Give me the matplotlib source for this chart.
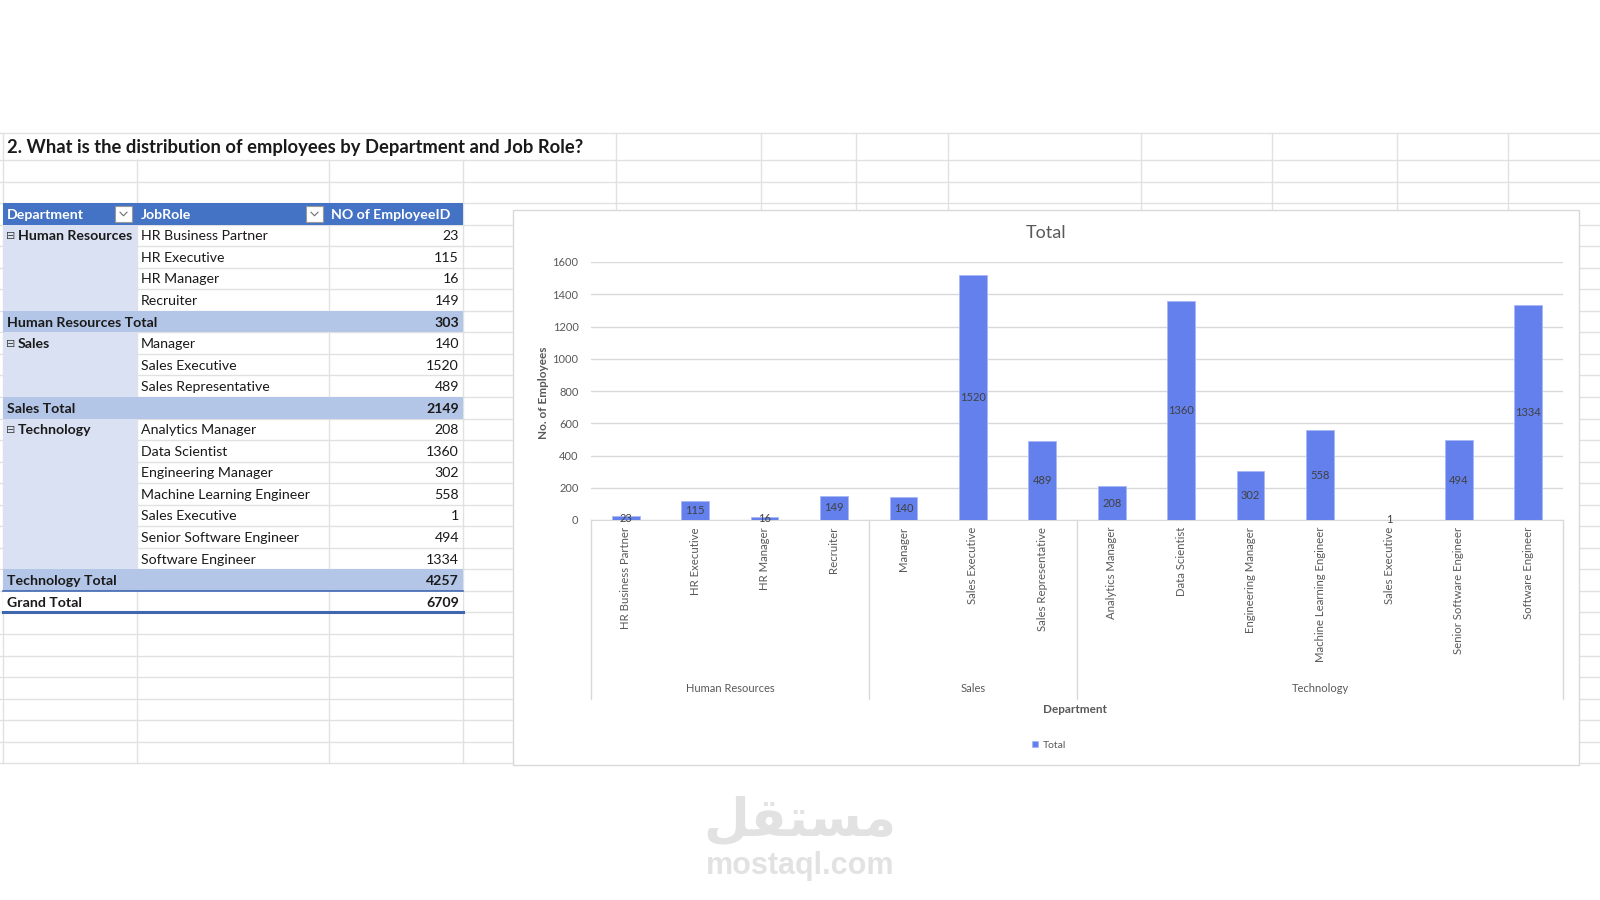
import numpy as np
import matplotlib
matplotlib.use('Agg')
import matplotlib.pyplot as plt
from matplotlib.patches import Rectangle

plt.rcParams['font.family'] = ['Lato', 'DejaVu Sans']

#
# data (pivot table: department -> job role -> number of employees)
#
question = '2. What is the distribution of employees by Department and Job Role?'
header = ['Department', 'JobRole', 'NO of EmployeeID']
departments = ['Human Resources', 'Sales', 'Technology']
hr_roles = ['HR Business Partner', 'HR Executive', 'HR Manager', 'Recruiter']
hr_counts = [23, 115, 16, 149]
sales_roles = ['Manager', 'Sales Executive', 'Sales Representative']
sales_counts = [140, 1520, 489]
tech_roles = ['Analytics Manager', 'Data Scientist', 'Engineering Manager',
              'Machine Learning Engineer', 'Sales Executive',
              'Senior Software Engineer', 'Software Engineer']
tech_counts = [208, 1360, 302, 558, 1, 494, 1334]
y_ticks = [0, 200, 400, 600, 800, 1000, 1200, 1400, 1600]

roles_by_dept = [hr_roles, sales_roles, tech_roles]
counts_by_dept = [hr_counts, sales_counts, tech_counts]

#
# sheet geometry (pixels)
#
RH = 21.55
HEAD_Y = 203
COL_A, COL_B, COL_C, COL_D = 3, 137, 329, 463
FS = 10.2  # table font size
grid_c = '#e1e1e1'
blue_head = '#4472C4'
blue_sub = '#B4C6E7'
blue_light = '#D9E1F2'
txt_c = '#1a1a1a'

fig = plt.figure(figsize=(16, 9), dpi=100)
bg = fig.add_axes([0, 0, 1, 1])
bg.set_xlim(0, 1600)
bg.set_ylim(900, 0)
bg.axis('off')

# sheet gridlines
row_lines = [133, 160, 181.5, HEAD_Y] + [HEAD_Y + RH * (k + 1) for k in range(26)]
for y in row_lines:
    bg.plot([0, 1600], [y, y], color=grid_c, lw=1, zorder=1)
col_lines = [COL_A, COL_B, COL_C, COL_D, 616, 761, 856, 948, 1141, 1272, 1397, 1508]
for x in col_lines:
    y_start = 160 if x in (COL_B, COL_C, COL_D) else 133
    bg.plot([x, x], [y_start, row_lines[-1]], color=grid_c, lw=1, zorder=1)

bg.text(7, 147, question, fontsize=13.2, fontweight='bold', color=txt_c,
        ha='left', va='center', zorder=4)

# header
bg.add_patch(Rectangle((COL_A, HEAD_Y), COL_D - COL_A, RH, fc=blue_head, ec='none', zorder=2))
hy = HEAD_Y + RH / 2 + 1
bg.text(7, hy, header[0], color='white', fontsize=FS, fontweight='bold', va='center', zorder=4)
bg.text(COL_B + 4, hy, header[1], color='white', fontsize=FS, fontweight='bold', va='center', zorder=4)
bg.text(COL_C + 2, hy, header[2], color='white', fontsize=FS, fontweight='bold', va='center', zorder=4)
for bx in (115, 306):
    bg.add_patch(Rectangle((bx, HEAD_Y + 2.5), 17, 16.5, fc='white', ec='#9a9a9a', lw=0.8, zorder=3))
    cx, cy = bx + 8.5, HEAD_Y + 11
    bg.plot([cx - 3.5, cx, cx + 3.5], [cy - 1.8, cy + 1.8, cy - 1.8], color='#707070', lw=0.8, zorder=4)

# body rows
row = 0
for dept, roles, counts in zip(departments, roles_by_dept, counts_by_dept):
    y_top = HEAD_Y + RH * (row + 1)
    bg.add_patch(Rectangle((COL_A, y_top), COL_B - COL_A, RH * len(roles), fc=blue_light, ec='none', zorder=2))
    bg.text(6, y_top + RH / 2 + 0.5, '⊟', fontsize=8, color='#404040', va='center',
            family=['DejaVu Sans'], zorder=4)
    bg.text(18, y_top + RH / 2 + 1, dept, fontsize=FS, fontweight='bold', color=txt_c, va='center', zorder=4)
    for role, n in zip(roles, counts):
        yc = HEAD_Y + RH * (row + 1) + RH / 2 + 1
        bg.text(COL_B + 4, yc, role, fontsize=FS, color=txt_c, va='center', zorder=4)
        bg.text(COL_D - 4, yc, str(n), fontsize=FS, color=txt_c, va='center', ha='right', zorder=4)
        row += 1
    y_sub = HEAD_Y + RH * (row + 1)
    bg.add_patch(Rectangle((COL_A, y_sub), COL_D - COL_A, RH, fc=blue_sub, ec='none', zorder=2))
    bg.text(7, y_sub + RH / 2 + 1, dept + ' Total', fontsize=FS, fontweight='bold', color=txt_c, va='center', zorder=4)
    bg.text(COL_D - 4, y_sub + RH / 2 + 1, str(sum(counts)), fontsize=FS, fontweight='bold',
            color=txt_c, va='center', ha='right', zorder=4)
    row += 1

y_gt = HEAD_Y + RH * (row + 1)
bg.add_patch(Rectangle((COL_A, y_gt), COL_D - COL_A, RH, fc='white', ec='none', zorder=2))
bg.plot([COL_B, COL_B], [y_gt, y_gt + RH], color=grid_c, lw=1, zorder=2.5)
bg.plot([COL_C, COL_C], [y_gt, y_gt + RH], color=grid_c, lw=1, zorder=2.5)
bg.plot([COL_A, COL_D], [y_gt, y_gt], color='#3f67b0', lw=1.2, zorder=3)
bg.plot([COL_A, COL_D], [y_gt + RH, y_gt + RH], color='#3f67b0', lw=2.2, zorder=3)
grand_total = sum(sum(c) for c in counts_by_dept)
bg.text(7, y_gt + RH / 2 + 1, 'Grand Total', fontsize=FS, fontweight='bold', color=txt_c, va='center', zorder=4)
bg.text(COL_D - 4, y_gt + RH / 2 + 1, str(grand_total), fontsize=FS, fontweight='bold',
        color=txt_c, va='center', ha='right', zorder=4)

#
# chart
#
bg.add_patch(Rectangle((513, 210), 1579 - 513, 765 - 210, fc='white', ec='#d9d9d9', lw=1, zorder=5))
bg.text(1046, 233, 'Total', fontsize=13, color='#595959', ha='center', va='center', zorder=6)

PL, PR, PB, PT = 591, 1563, 520, 262
ax = fig.add_axes([PL / 1600, 1 - PB / 900, (PR - PL) / 1600, (PB - PT) / 900])
ax.patch.set_visible(False)

roles = hr_roles + sales_roles + tech_roles
counts = hr_counts + sales_counts + tech_counts
x = np.arange(len(roles))
bars = ax.bar(x, counts, width=0.4, color='#6380EC', edgecolor='#a9b8f5', lw=0.6, zorder=3, label='Total')
for xi, n in zip(x, counts):
    ax.text(xi, n / 2, str(n), ha='center', va='center', fontsize=8, color='#404040', zorder=4)

ax.set_xlim(-0.5, len(roles) - 0.5)
ax.set_ylim(0, 1600)
ax.set_yticks(y_ticks)
ax.yaxis.grid(True, color='#d9d9d9', lw=1, zorder=0)
ax.set_axisbelow(True)
for s in ['left', 'right', 'top']:
    ax.spines[s].set_visible(False)
ax.spines['bottom'].set_color('#d9d9d9')
ax.tick_params(axis='y', length=0, labelsize=8, labelcolor='#595959', pad=9)
ax.set_xticks(x)
ax.set_xticklabels(roles, rotation=90, fontsize=8.2, color='#595959')
ax.tick_params(axis='x', length=0, pad=5)

# group labels of the two-level category axis
trans = ax.get_xaxis_transform()
div_bottom = -(699 - PB) / (PB - PT)
bounds = np.cumsum([0] + [len(r) for r in roles_by_dept]) - 0.5
for b in bounds:
    ax.plot([b, b], [0, div_bottom], transform=trans, color='#d9d9d9', lw=1, clip_on=False)
for dept, lo, hi in zip(departments, bounds[:-1], bounds[1:]):
    ax.text((lo + hi) / 2, -(689 - PB) / (PB - PT), dept, transform=trans, ha='center', va='center',
            fontsize=8, color='#595959')

ax.set_ylabel('No. of Employees', fontsize=8.5, fontweight='bold', color='#595959')
ax.yaxis.set_label_coords((549 - PL) / (PR - PL), (PB - 393) / (PB - PT))
ax.set_xlabel('Department', fontsize=8.5, fontweight='bold', color='#595959')
ax.xaxis.set_label_coords((1075 - PL) / (PR - PL), -(704 - PB) / (PB - PT))

ax.legend(loc='center', bbox_to_anchor=(1049 / 1600, 1 - 745 / 900), bbox_transform=fig.transFigure,
          frameon=False, fontsize=7.5, handlelength=0.6, handleheight=0.6, handletextpad=0.4,
          labelcolor='#595959')

#
# watermark
#
logo = '\uFEDE\uFED8\uFE98\uFEB4\uFEE3'
bg.text(800, 820, logo, fontsize=38, fontweight='bold', color='#e2e2e2', ha='center', va='center',
        family=['DejaVu Sans'])
bg.text(800, 866, 'mostaql.com', fontsize=22, fontweight='bold', color='#e2e2e2', ha='center', va='center',
        family=['Liberation Sans', 'DejaVu Sans'])

fig.savefig('out.png', dpi=100)
